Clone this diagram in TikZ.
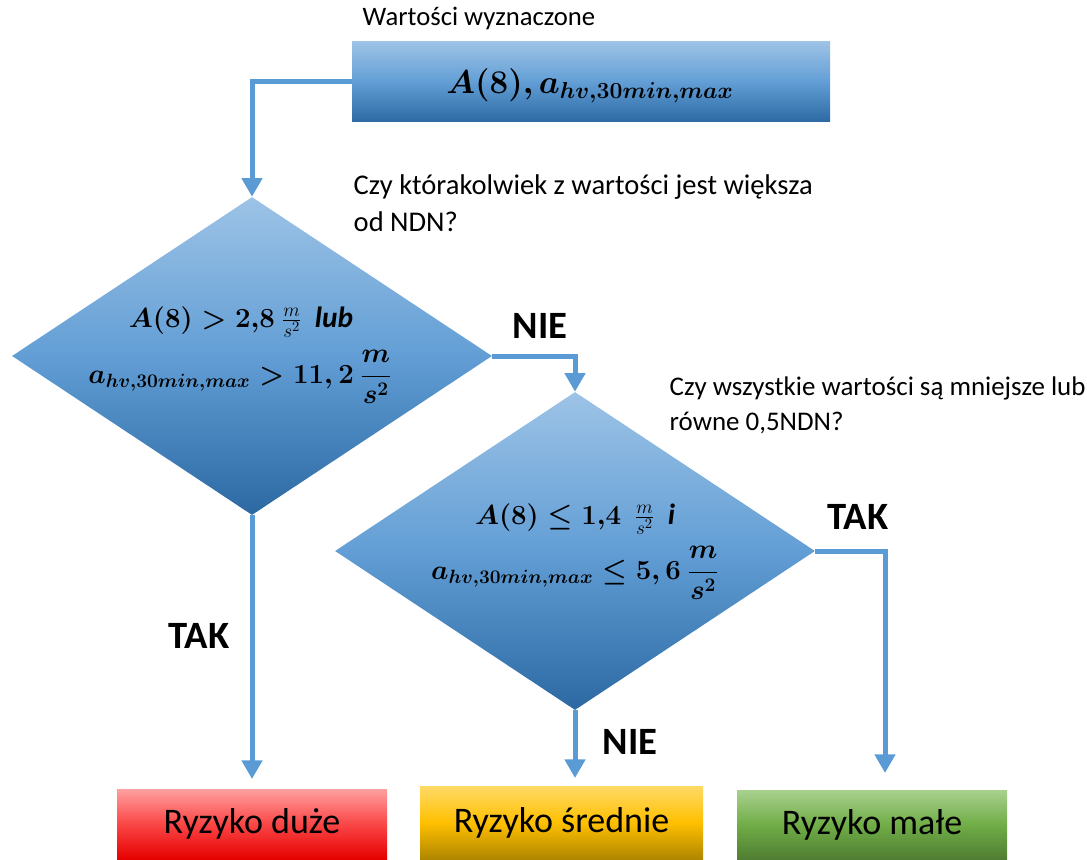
\documentclass[tikz,border=0pt]{standalone}
\usepackage{fontspec}
\setmainfont{Carlito}
\usepackage{amsmath}
\usetikzlibrary{shapes.geometric,arrows.meta}
\definecolor{lineblue}{RGB}{91,155,213}
\definecolor{btop}{RGB}{157,195,230}
\definecolor{bmid}{RGB}{98,158,213}
\definecolor{bbot}{RGB}{44,105,163}
\definecolor{rtop}{RGB}{255,160,160}
\definecolor{rmid}{RGB}{250,70,70}
\definecolor{rbot}{RGB}{230,0,0}
\definecolor{ytop}{RGB}{255,217,102}
\definecolor{ymid}{RGB}{255,192,0}
\definecolor{ybot}{RGB}{176,134,0}
\definecolor{gtop}{RGB}{169,209,142}
\definecolor{gmid}{RGB}{112,173,71}
\definecolor{gbot}{RGB}{80,126,50}
\newcommand\fsRisk{\fontsize{27}{32}\selectfont}
\newcommand\fsAns{\fontsize{29}{34}\selectfont\bfseries}
\newcommand\fsQa{\fontsize{21.4}{27.75}\selectfont}
\newcommand\fsQb{\fontsize{20.2}{26.25}\selectfont}
\newcommand\fsLab{\fontsize{20}{24}\selectfont}
\newcommand\fsMath{\fontsize{20.5}{24}\selectfont}
\newcommand\fsMathA{\fontsize{22}{26}\selectfont}
\newcommand\fsTopMath{\fontsize{23.5}{28}\selectfont}
\newcommand\myunit{\frac{m}{s^2}}
\newcommand\mybigunit{\boldsymbol{\displaystyle\frac{m}{s^2}}}
\newcommand\mysub{\boldsymbol{a_{hv,30min,max}}}
\tikzset{
  bluebox/.style={rectangle, top color=btop, bottom color=bbot, middle color=bmid, inner sep=0pt},
  decision/.style={diamond, top color=btop, bottom color=bbot, middle color=bmid, inner sep=0pt, minimum width=360pt, minimum height=238.5pt},
  riskbox/.style={rectangle, inner sep=0pt, minimum width=202.5pt, minimum height=52.5pt, font=\fsRisk},
  conn/.style={draw=lineblue, line width=3.75pt, -{Triangle[width=15pt,length=14pt]}},
  answer/.style={font=\fsAns},
  question/.style={align=left, anchor=west},
  mathtxt/.style={inner sep=0pt, font=\fsMath}
}
\begin{document}
\begin{tikzpicture}[x=0.75pt,y=-0.75pt]
\path[use as bounding box] (0,0) rectangle (1087,859);
\node[bluebox, minimum width=358.5pt, minimum height=60pt] (topbox) at (591,82) {};
\node[mathtxt] (topt) at (590,86) {\fsTopMath $\boldsymbol{A(8),}\,\mysub$};
\node[anchor=west, font=\fsLab] (lab) at (358,18) {Wartości wyznaczone};
\node[decision] (d1) at (252,356) {};
\node[mathtxt, font=\fsMathA] (d1a) at (241,322) {$\boldsymbol{A(8) > 2{,}8}\ \myunit$\ \ \textbf{\textit{lub}}};
\node[mathtxt] (d1b) at (240,377) {$\mysub \boldsymbol{{}> 11,2}\ \mybigunit$};
\node[question, font=\fsQa] (q1) at (349,203) {Czy którakolwiek z wartości jest większa\\od NDN?};
\node[decision] (d2) at (575,551) {};
\node[mathtxt, font=\fsMathA] (d2a) at (575,519) {$\boldsymbol{A(8) \leq 1{,}4}\ \ \myunit$\ \ \textbf{\textit{i}}};
\node[mathtxt] (d2b) at (575,573) {$\mysub \boldsymbol{{}\leq 5,6}\ \mybigunit$};
\node[question, font=\fsQb] (q2) at (665,405) {Czy wszystkie wartości są mniejsze lub\\równe 0,5NDN?};
\node[riskbox, top color=rtop, bottom color=rbot, middle color=rmid] (r1) at (252,824) {Ryzyko duże};
\node[riskbox, top color=ytop, bottom color=ybot, middle color=ymid, minimum width=212.25pt, minimum height=54.75pt] (r2) at (561.5,822.5) {Ryzyko średnie};
\node[riskbox, top color=gtop, bottom color=gbot, middle color=gmid, minimum height=51.75pt] (r3) at (872,824.5) {Ryzyko małe};
\node[answer] (nie1) at (540,326) {NIE};
\node[answer] (tak1) at (199,636) {TAK};
\node[answer] (tak2) at (858,517) {TAK};
\node[answer] (nie2) at (630,742) {NIE};
\coordinate (e1) at (252,779);
\coordinate (e2) at (575,778);
\coordinate (e3) at (885,773);
\draw[conn] (topbox.west) -| (d1.north);
\draw[conn] (d1.east) -| (d2.north);
\draw[conn] (d1.south) -- (e1);
\draw[conn] (d2.south) -- (e2);
\draw[conn] (d2.east) -| (e3);
\end{tikzpicture}
\end{document}
